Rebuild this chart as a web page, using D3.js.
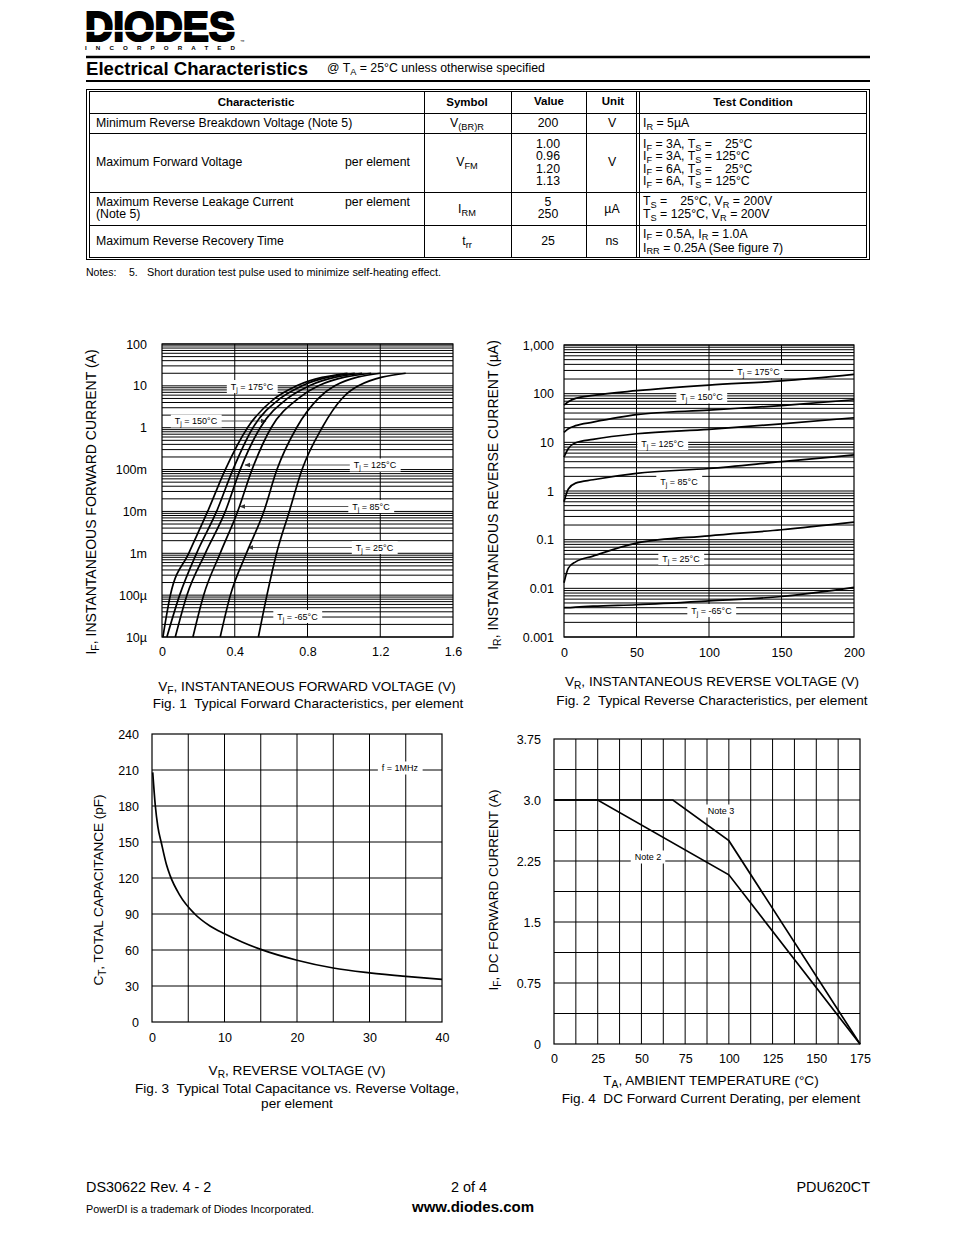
<!DOCTYPE html>
<html>
<head>
<meta charset="utf-8">
<script src="https://cdn.jsdelivr.net/npm/d3@7/dist/d3.min.js"></script>
<style>
  body { margin: 0; background: #fff; }
  svg text { font-family: Arial, "Liberation Sans", Helvetica, sans-serif; fill: #000; }
</style>
</head>
<body>
<svg id="page" width="954" height="1235"></svg>
<script>
// ---------- data ----------

// Fig. 1 forward characteristics: Vf at each current, one array per junction temperature
var fig1Current = [1e-5, 1e-4, 1e-3, 1e-2, 0.1, 1, 5, 10, 20];
var vf175 = [0.005, 0.046, 0.147, 0.251, 0.348, 0.47, 0.62, 0.74, 1.02];
var vf150 = [0.027, 0.097, 0.19, 0.30, 0.39, 0.50, 0.65, 0.77, 1.06];
var vf125 = [0.073, 0.137, 0.238, 0.348, 0.43, 0.54, 0.69, 0.81, 1.10];
var vf85  = [0.17, 0.229, 0.32, 0.416, 0.495, 0.60, 0.75, 0.86, 1.15];
var vf25  = [0.32, 0.376, 0.464, 0.56, 0.632, 0.74, 0.86, 0.95, 1.20];
var vfM65 = [0.53, 0.577, 0.63, 0.70, 0.77, 0.88, 0.99, 1.08, 1.34];
var fig1YTicks = [1e-5, 1e-4, 1e-3, 1e-2, 0.1, 1, 10, 100];
var fig1YLabels = ["10\u00b5", "100\u00b5", "1m", "10m", "100m", "1", "10", "100"];
var fig1XTicks = [0, 0.4, 0.8, 1.2, 1.6];

// Fig. 2 reverse characteristics (uA) vs reverse voltage
var fig2Voltage = [0, 3, 8, 20, 50, 100, 150, 200];
var ir175 = [58, 68, 80, 92, 115, 150, 183, 250];
var ir150 = [16, 19, 22, 26, 37, 46, 57, 75];
var ir125 = [5, 7.5, 9.8, 11.5, 15, 18.5, 24, 32];
var ir85  = [0.6, 1.1, 1.45, 1.7, 2.3, 2.9, 4, 5.5];
var ir25  = [0.013, 0.026, 0.035, 0.046, 0.085, 0.12, 0.16, 0.23];
var irM65 = [0.004, 0.004, 0.0041, 0.0043, 0.0046, 0.0055, 0.0068, 0.0105];
var fig2YTicks = [0.001, 0.01, 0.1, 1, 10, 100, 1000];
var fig2YLabels = ["0.001", "0.01", "0.1", "1", "10", "100", "1,000"];
var fig2XTicks = [0, 50, 100, 150, 200];

// Fig. 3 capacitance vs reverse voltage
var capVoltage = [0.1, 0.46, 0.8, 1.3, 2.0, 2.5, 3.8, 5.9, 8, 10, 12.5, 15, 20, 25, 30, 35, 40];
var capValue   = [208, 180, 163, 149, 131, 122, 106, 90, 80, 73.5, 66.5, 60.5, 51.5, 45, 41, 38, 35.5];
var fig3YTicks = [0, 30, 60, 90, 120, 150, 180, 210, 240];
var fig3XTicks = [0, 10, 20, 30, 40];

// Fig. 4 derating
var note3Temp = [0, 68, 100, 175];
var note3Curr = [3.0, 3.0, 2.5, 0];
var note2Temp = [0, 25, 100, 175];
var note2Curr = [3.0, 3.0, 2.08, 0];
var fig4YTicks = [0, 0.75, 1.5, 2.25, 3.0, 3.75];
var fig4YLabels = ["0", "0.75", "1.5", "2.25", "3.0", "3.75"];
var fig4XTicks = [0, 25, 50, 75, 100, 125, 150, 175];

// ---------- helpers ----------
var svg = d3.select("#page");
svg.append("rect").attr("width", 954).attr("height", 1235).attr("fill", "#fff");

var defs = svg.append("defs");
defs.append("marker")
    .attr("id", "arrow")
    .attr("viewBox", "0 0 10 10")
    .attr("refX", 9).attr("refY", 5)
    .attr("markerWidth", 6).attr("markerHeight", 6)
    .attr("markerUnits", "userSpaceOnUse")
    .attr("orient", "auto")
  .append("path")
    .attr("d", "M0,1 L10,5 L0,9 z")
    .attr("fill", "#333");

// parts: [[text, isSub], ...]
function rich(sel, parts, fs) {
  var shift = 0;
  parts.forEach(function(p) {
    var t = sel.append("tspan").text(p[0]);
    if (p[1]) {
      t.attr("font-size", fs * 0.75).attr("dy", fs * 0.22 - shift);
      shift = fs * 0.22;
    } else {
      if (shift) t.attr("dy", -shift);
      shift = 0;
    }
  });
  return sel;
}

function text(x, y, parts, fs, anchor, weight) {
  var t = svg.append("text")
      .attr("x", x).attr("y", y)
      .attr("font-size", fs)
      .attr("text-anchor", anchor || "start")
      .attr("font-weight", weight || "normal");
  if (typeof parts === "string") t.text(parts);
  else rich(t, parts, fs);
  return t;
}

function vtext(cx, cy, parts, fs) {
  var t = svg.append("text")
      .attr("transform", "translate(" + cx + "," + cy + ") rotate(-90)")
      .attr("font-size", fs)
      .attr("text-anchor", "middle");
  rich(t, parts, fs);
}

function hline(x1, x2, y, w) {
  svg.append("line").attr("x1", x1).attr("x2", x2).attr("y1", y).attr("y2", y)
     .attr("stroke", "#000").attr("stroke-width", w || 1);
}
function vline(x, y1, y2, w) {
  svg.append("line").attr("x1", x).attr("x2", x).attr("y1", y1).attr("y2", y2)
     .attr("stroke", "#000").attr("stroke-width", w || 1);
}

function drawGrid(x, y, xs, ys) {
  var g = svg.append("g").attr("stroke", "#000").attr("stroke-width", 1);
  g.selectAll(null).data(xs).enter().append("line")
      .attr("x1", function(d) { return x(d); }).attr("x2", function(d) { return x(d); })
      .attr("y1", y.range()[0]).attr("y2", y.range()[1]);
  g.selectAll(null).data(ys).enter().append("line")
      .attr("y1", function(d) { return y(d); }).attr("y2", function(d) { return y(d); })
      .attr("x1", x.range()[0]).attr("x2", x.range()[1]);
  svg.append("rect")
      .attr("x", x.range()[0]).attr("y", y.range()[1])
      .attr("width", x.range()[1] - x.range()[0])
      .attr("height", y.range()[0] - y.range()[1])
      .attr("fill", "none").attr("stroke", "#000").attr("stroke-width", 1.2);
}

function drawAxes(x, y, xTicks, xFmt, yTicks, yFmt, xPad, yPad) {
  var ax = svg.append("g")
      .attr("transform", "translate(0," + y.range()[0] + ")")
      .call(d3.axisBottom(x).tickValues(xTicks).tickFormat(xFmt).tickSize(0).tickPadding(xPad));
  var ay = svg.append("g")
      .attr("transform", "translate(" + x.range()[0] + ",0)")
      .call(d3.axisLeft(y).tickValues(yTicks).tickFormat(yFmt).tickSize(0).tickPadding(yPad));
  [ax, ay].forEach(function(a) {
    a.select(".domain").remove();
    a.attr("font-family", null).attr("font-size", null);
    a.selectAll("text").attr("font-size", 12.5).attr("fill", "#000");
  });
}

function boxLabel(cx, cy, parts, fs) {
  var t = svg.append("text")
      .attr("x", cx).attr("y", cy + fs * 0.35)
      .attr("font-size", fs)
      .attr("text-anchor", "middle");
  rich(t, parts, fs);
  var b = t.node().getBBox();
  svg.insert("rect", function() { return t.node(); })
      .attr("x", b.x - 4).attr("y", cy - 6.5)
      .attr("width", b.width + 8).attr("height", 13)
      .attr("fill", "#fff");
  return b;
}

function arrow(x1, x2, y) {
  svg.append("line")
      .attr("x1", x1).attr("x2", x2).attr("y1", y).attr("y2", y)
      .attr("stroke", "#444").attr("stroke-width", 0.9)
      .attr("marker-end", "url(#arrow)");
}

function tj(t) { return [["T", false], ["j", true], [" = " + t + "\u00b0C", false]]; }

var nb = "\u00a0\u00a0";
var labelFs = 13.6;

// ---------- header ----------
// logo word: natural width kept to the logo box, height stretched
svg.append("text")
    .attr("transform", "translate(85,41) scale(1,1.12)")
    .attr("font-size", 38)
    .attr("font-weight", "bold")
    .attr("font-family", "'Liberation Sans', Arial, sans-serif")
    .attr("stroke", "#000").attr("stroke-width", 2).attr("stroke-linejoin", "miter")
    .attr("textLength", 150).attr("lengthAdjust", "spacingAndGlyphs")
    .text("DIODES");
svg.append("rect").attr("x", 84).attr("y", 30).attr("width", 156).attr("height", 1.8).attr("fill", "#fff");
text(85, 50, "INCORPORATED", 6.2, "start", "bold")
    .attr("textLength", 150).attr("lengthAdjust", "spacing");
text(240, 43, "\u2122", 4.5);

hline(86, 870, 57, 2.5);
hline(86, 870, 81, 2);
text(86, 75, "Electrical Characteristics", 17.5, "start", "bold")
    .attr("textLength", 222).attr("lengthAdjust", "spacingAndGlyphs");
text(327, 72, [["@ T", false], ["A", true], [" = 25\u00b0C unless otherwise specified", false]], 12.3);

// ---------- table ----------
svg.append("rect").attr("x", 86.5).attr("y", 89.5).attr("width", 783).attr("height", 170)
   .attr("fill", "none").attr("stroke", "#000").attr("stroke-width", 1);
svg.append("rect").attr("x", 89.5).attr("y", 91.5).attr("width", 777).attr("height", 166)
   .attr("fill", "none").attr("stroke", "#000").attr("stroke-width", 1);
[113, 133, 192, 225].forEach(function(yy) { hline(89.5, 866.5, yy + 0.5, 1); });
[424, 511, 586, 636, 639].forEach(function(xx) { vline(xx + 0.5, 91.5, 257.5, 1); });

var tfs = 12.3;
text(256, 106, "Characteristic", 11.5, "middle", "bold");
text(467, 106, "Symbol", 11.5, "middle", "bold");
text(549, 105, "Value", 11.5, "middle", "bold");
text(613, 105, "Unit", 11.5, "middle", "bold");
text(753, 106, "Test Condition", 11.5, "middle", "bold");

text(96, 127, "Minimum Reverse Breakdown Voltage (Note 5)", tfs);
text(467, 127, [["V", false], ["(BR)R", true]], tfs, "middle");
text(548, 127, "200", tfs, "middle");
text(612, 127, "V", tfs, "middle");
text(643, 127, [["I", false], ["R", true], [" = 5\u00b5A", false]], tfs);

text(96, 166, "Maximum Forward Voltage", tfs);
text(345, 166, "per element", tfs);
text(467, 166, [["V", false], ["FM", true]], tfs, "middle");
["1.00", "0.96", "1.20", "1.13"].forEach(function(v, i) { text(548, 148 + i * 12.3, v, tfs, "middle"); });
text(612, 166, "V", tfs, "middle");
[["3A", "\u2002 25"], ["3A", "125"], ["6A", "\u2002 25"], ["6A", "125"]].forEach(function(c, i) {
  text(643, 148 + i * 12.3, [["I", false], ["F", true], [" = " + c[0] + ", T", false], ["S", true],
       [" = " + c[1] + "\u00b0C", false]], tfs);
});

text(96, 206, "Maximum Reverse Leakage Current", tfs);
text(96, 218, "(Note 5)", tfs);
text(345, 206, "per element", tfs);
text(467, 213, [["I", false], ["RM", true]], tfs, "middle");
text(548, 206, "5", tfs, "middle");
text(548, 218, "250", tfs, "middle");
text(612, 213, "\u00b5A", tfs, "middle");
text(643, 205, [["T", false], ["S", true], [" = \u2002 25\u00b0C, V", false], ["R", true], [" = 200V", false]], tfs);
text(643, 218, [["T", false], ["S", true], [" = 125\u00b0C, V", false], ["R", true], [" = 200V", false]], tfs);

text(96, 245, "Maximum Reverse Recovery Time", tfs);
text(467, 245, [["t", false], ["rr", true]], tfs, "middle");
text(548, 245, "25", tfs, "middle");
text(612, 245, "ns", tfs, "middle");
text(643, 237.5, [["I", false], ["F", true], [" = 0.5A, I", false], ["R", true], [" = 1.0A", false]], tfs);
text(643, 251.5, [["I", false], ["RR", true], [" = 0.25A (See figure 7)", false]], tfs);

text(86, 276, "Notes:", 10.5);
text(129, 276, "5.", 10.5);
text(147, 276, "Short duration test pulse used to minimize self-heating effect.", 10.5)
    .attr("textLength", 294).attr("lengthAdjust", "spacingAndGlyphs");

// ---------- Fig. 1 ----------
(function() {
  var x = d3.scaleLinear().domain([0, 1.6]).range([162, 453]);
  var y = d3.scaleLog().domain([1e-5, 100]).range([637, 344]);
  var ys = [];
  for (var e = -5; e < 2; e++) for (var k = 1; k < 10; k++) ys.push(k * Math.pow(10, e));
  ys.push(100);
  drawGrid(x, y, [0.4, 0.8, 1.2], ys);
  drawAxes(x, y, fig1XTicks, function(d) { return d; },
           fig1YTicks, function(d, i) { return fig1YLabels[i]; }, 10.5, 15);

  boxLabel(252, 386.5, tj("175"), 9);
  var b = boxLabel(196, 421, tj("150"), 9);
  arrow(b.x + b.width + 4, 266, 421);
  b = boxLabel(375, 465, tj("125"), 9);
  arrow(b.x - 4, 245, 465);
  b = boxLabel(371, 506.5, tj("85"), 9);
  arrow(b.x - 4, 240, 506.5);
  b = boxLabel(374.5, 547.5, tj("25"), 9);
  arrow(b.x - 4, 248, 547.5);
  boxLabel(297.5, 616.5, tj("-65"), 9);

  var line = d3.line()
      .x(function(d) { return x(d[0]); })
      .y(function(d) { return y(d[1]); })
      .curve(d3.curveMonotoneX);
  [vf175, vf150, vf125, vf85, vf25, vfM65].forEach(function(vf) {
    svg.append("path")
        .datum(vf.map(function(v, i) { return [v, fig1Current[i]]; }))
        .attr("d", line)
        .attr("fill", "none").attr("stroke", "#000").attr("stroke-width", 1.7);
  });

  text(307, 691, [["V", false], ["F", true], [", INSTANTANEOUS FORWARD VOLTAGE (V)", false]], labelFs, "middle");
  text(308, 708, "Fig. 1" + nb + "Typical Forward Characteristics, per element", labelFs, "middle");
  vtext(96, 502, [["I", false], ["F", true], [", INSTANTANEOUS FORWARD CURRENT (A)", false]], 14);
})();

// ---------- Fig. 2 ----------
(function() {
  var x = d3.scaleLinear().domain([0, 200]).range([564, 854]);
  var y = d3.scaleLog().domain([0.001, 1000]).range([637, 345]);
  var ys = [];
  for (var e = -3; e < 3; e++) for (var k = 1; k < 10; k++) ys.push(k * Math.pow(10, e));
  ys.push(1000);
  drawGrid(x, y, [50, 100, 150], ys);
  drawAxes(x, y, fig2XTicks, function(d) { return d; },
           fig2YTicks, function(d, i) { return fig2YLabels[i]; }, 11.5, 10);

  boxLabel(758.5, 371.5, tj("175"), 9);
  boxLabel(701.5, 397, tj("150"), 9);
  boxLabel(662.5, 443.5, tj("125"), 9);
  boxLabel(679, 481.5, tj("85"), 9);
  boxLabel(681, 558.5, tj("25"), 9);
  boxLabel(711.5, 610.5, tj("-65"), 9);

  var line = d3.line()
      .x(function(d) { return x(d[0]); })
      .y(function(d) { return y(d[1]); })
      .curve(d3.curveMonotoneX);
  [ir175, ir150, ir125, ir85, ir25, irM65].forEach(function(ir) {
    svg.append("path")
        .datum(ir.map(function(v, i) { return [fig2Voltage[i], v]; }))
        .attr("d", line)
        .attr("fill", "none").attr("stroke", "#000").attr("stroke-width", 1.7);
  });

  text(712, 686, [["V", false], ["R", true], [", INSTANTANEOUS REVERSE VOLTAGE (V)", false]], labelFs, "middle");
  text(712, 705, "Fig. 2" + nb + "Typical Reverse Characteristics, per element", labelFs, "middle");
  vtext(498, 495, [["I", false], ["R", true], [", INSTANTANEOUS REVERSE CURRENT (\u00b5A)", false]], 14);
})();

// ---------- Fig. 3 ----------
(function() {
  var x = d3.scaleLinear().domain([0, 40]).range([152, 442]);
  var y = d3.scaleLinear().domain([0, 240]).range([1022, 734]);
  drawGrid(x, y, d3.range(5, 40, 5), d3.range(30, 240, 30));
  drawAxes(x, y, fig3XTicks, function(d) { return d; },
           fig3YTicks, function(d) { return d; }, 11.5, 13);

  boxLabel(400, 768, [["f = 1MHz", false]], 9);

  svg.append("path")
      .datum(capVoltage.map(function(v, i) { return [v, capValue[i]]; }))
      .attr("d", d3.line()
          .x(function(d) { return x(d[0]); })
          .y(function(d) { return y(d[1]); })
          .curve(d3.curveMonotoneX))
      .attr("fill", "none").attr("stroke", "#000").attr("stroke-width", 1.7);

  text(297, 1075, [["V", false], ["R", true], [", REVERSE VOLTAGE (V)", false]], labelFs, "middle");
  text(297, 1093, "Fig. 3" + nb + "Typical Total Capacitance vs. Reverse Voltage,", labelFs, "middle");
  text(297, 1108, "per element", labelFs, "middle");
  vtext(103, 890, [["C", false], ["T", true], [", TOTAL CAPACITANCE (pF)", false]], 13.5);
})();

// ---------- Fig. 4 ----------
(function() {
  var x = d3.scaleLinear().domain([0, 175]).range([554, 860]);
  var y = d3.scaleLinear().domain([0, 3.75]).range([1044, 739]);
  drawGrid(x, y, d3.range(1, 14).map(function(i) { return i * 12.5; }),
           d3.range(1, 10).map(function(i) { return i * 0.375; }));
  drawAxes(x, y, fig4XTicks, function(d) { return d; },
           fig4YTicks, function(d, i) { return fig4YLabels[i]; }, 10.5, 13);

  boxLabel(721, 811, [["Note 3", false]], 9);
  boxLabel(648, 857, [["Note 2", false]], 9);

  var line = d3.line()
      .x(function(d) { return x(d[0]); })
      .y(function(d) { return y(d[1]); });
  [[note3Temp, note3Curr], [note2Temp, note2Curr]].forEach(function(s) {
    svg.append("path")
        .datum(s[0].map(function(t, i) { return [t, s[1][i]]; }))
        .attr("d", line)
        .attr("fill", "none").attr("stroke", "#000").attr("stroke-width", 1.7);
  });

  text(711, 1085, [["T", false], ["A", true], [", AMBIENT TEMPERATURE (\u00b0C)", false]], labelFs, "middle");
  text(711, 1103, "Fig. 4" + nb + "DC Forward Current Derating, per element", labelFs, "middle");
  vtext(498, 890, [["I", false], ["F", true], [", DC FORWARD CURRENT (A)", false]], 13.5);
})();

// ---------- footer ----------
text(86, 1192, "DS30622 Rev. 4 - 2", 14.4);
text(469, 1192, "2 of 4", 14.4, "middle");
text(870, 1192, "PDU620CT", 14.4, "end");
text(86, 1213, "PowerDI is a trademark of Diodes Incorporated.", 10.8);
text(473, 1212, "www.diodes.com", 15, "middle", "bold");
</script>
</body>
</html>
